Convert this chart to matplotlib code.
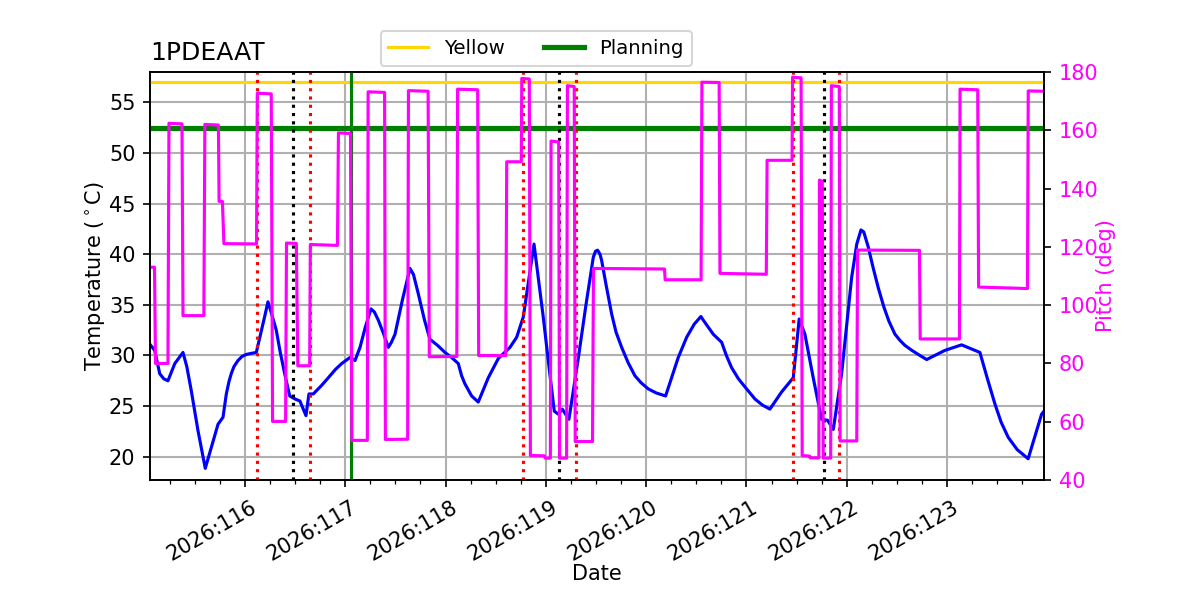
import matplotlib
matplotlib.use("Agg")
import matplotlib.pyplot as plt
import matplotlib.transforms as mtransforms
from matplotlib.ticker import MultipleLocator, FixedLocator

# ---- data ----
temp_t = [115.053, 115.06, 115.10, 115.15, 115.19, 115.232, 115.30, 115.382, 115.42, 115.465,
          115.531, 115.604, 115.664, 115.731, 115.781, 115.814, 115.84, 115.863, 115.89, 115.93,
          115.97, 116.013, 116.06, 116.113, 116.20, 116.229, 116.26, 116.312, 116.35, 116.396,
          116.446, 116.499, 116.548, 116.608, 116.638, 116.681, 116.76, 116.831, 116.90, 116.964,
          117.047, 117.097, 117.147, 117.20, 117.256, 117.29, 117.329, 117.38, 117.429, 117.46,
          117.496, 117.57, 117.645, 117.68, 117.728, 117.79, 117.844, 117.92, 117.994, 118.06,
          118.127, 118.16, 118.193, 118.26, 118.326, 118.426, 118.526, 118.642, 118.709, 118.775,
          118.83, 118.882, 118.92, 118.974, 119.03, 119.084, 119.124, 119.164, 119.230, 119.323,
          119.40, 119.473, 119.495, 119.516, 119.54, 119.556, 119.60, 119.656, 119.70, 119.756,
          119.82, 119.888, 119.95, 120.021, 120.10, 120.194, 120.26, 120.320, 120.404, 120.48,
          120.546, 120.569, 120.669, 120.753, 120.80, 120.852, 120.92, 120.985, 121.085, 121.16,
          121.234, 121.351, 121.467, 121.526, 121.583, 121.666, 121.749, 121.809, 121.866, 121.949,
          122.00, 122.049, 122.10, 122.142, 122.17, 122.215, 122.26, 122.314, 122.37, 122.42,
          122.481, 122.53, 122.580, 122.65, 122.730, 122.797, 122.979, 123.145, 123.328, 123.40,
          123.478, 123.54, 123.611, 123.70, 123.76, 123.809, 123.943, 123.967]
temp_v = [31.1, 31.0, 30.5, 28.2, 27.7, 27.5, 29.2, 30.3, 28.9, 26.5,
          22.6, 18.85, 20.9, 23.2, 23.9, 26.2, 27.4, 28.2, 28.9, 29.5,
          29.9, 30.1, 30.2, 30.3, 34.0, 35.3, 34.3, 32.5, 30.4, 28.2,
          26.0, 25.7, 25.5, 24.06, 26.2, 26.2, 27.0, 27.8, 28.6, 29.2,
          29.8, 29.5, 30.8, 32.8, 34.6, 34.3, 33.5, 32.2, 30.8, 31.3,
          32.1, 35.5, 38.6, 38.0, 36.1, 33.5, 31.6, 31.0, 30.3, 29.8,
          29.2, 28.0, 27.2, 26.0, 25.4, 27.8, 29.7, 30.8, 31.8, 33.8,
          37.5, 41.0, 38.0, 33.8, 29.0, 24.5, 24.2, 24.7, 23.7, 29.7,
          35.0, 39.7, 40.3, 40.4, 40.0, 39.4, 37.0, 34.1, 32.3, 30.8,
          29.3, 28.0, 27.3, 26.7, 26.3, 26.0, 28.0, 29.8, 31.8, 33.1,
          33.85, 33.5, 32.1, 31.3, 30.0, 28.8, 27.7, 26.9, 25.7, 25.1,
          24.7, 26.4, 27.8, 33.6, 32.1, 27.8, 23.7, 23.6, 22.7, 28.2,
          33.0, 37.7, 41.0, 42.4, 42.2, 40.7, 38.8, 36.7, 34.8, 33.4,
          32.1, 31.5, 31.0, 30.5, 30.0, 29.6, 30.5, 31.05, 30.3, 27.8,
          25.2, 23.4, 21.9, 20.7, 20.2, 19.8, 24.2, 24.5]

pitch_t = [115.053, 115.098, 115.108, 115.232, 115.242, 115.372, 115.382, 115.590, 115.600, 115.735,
           115.742, 115.775, 115.790, 116.115, 116.123, 116.262, 116.275, 116.405, 116.414, 116.512,
           116.527, 116.645, 116.652, 116.922, 116.932, 117.052, 117.066, 117.220, 117.228, 117.392,
           117.400, 117.622, 117.630, 117.826, 117.838, 118.112, 118.120, 118.320, 118.330, 118.600,
           118.610, 118.755, 118.760, 118.835, 118.846, 118.985, 118.995, 119.045, 119.052, 119.128,
           119.137, 119.207, 119.215, 119.283, 119.293, 119.465, 119.475, 120.183, 120.190, 120.548,
           120.556, 120.728, 120.736, 121.198, 121.206, 121.455, 121.460, 121.545, 121.556, 121.630,
           121.636, 121.722, 121.728, 121.756, 121.766, 121.840, 121.847, 121.926, 121.934, 122.100,
           122.108, 122.725, 122.733, 123.124, 123.130, 123.306, 123.315, 123.802, 123.810, 123.967]
pitch_v = [113.0, 113.0, 80.0, 80.0, 162.4, 162.2, 96.4, 96.4, 162.0, 161.8,
           135.6, 135.6, 121.1, 121.0, 172.7, 172.5, 60.1, 60.1, 121.3, 121.2,
           79.2, 79.2, 120.8, 120.5, 159.1, 158.9, 53.6, 53.6, 173.2, 173.0,
           53.9, 54.0, 173.6, 173.4, 82.3, 82.4, 174.1, 173.9, 82.7, 82.7,
           149.2, 149.2, 177.8, 177.6, 48.4, 48.3, 47.5, 47.5, 156.3, 156.0,
           47.5, 47.5, 175.3, 175.0, 53.2, 53.2, 112.6, 112.4, 108.7, 108.7,
           176.5, 176.4, 110.9, 110.6, 149.7, 149.7, 178.2, 178.0, 48.4, 48.2,
           47.6, 47.6, 142.9, 142.5, 47.5, 47.5, 175.3, 175.0, 53.4, 53.4,
           118.9, 118.8, 88.4, 88.4, 174.1, 173.9, 106.2, 105.7, 173.5, 173.4]

day_ticks = [116, 117, 118, 119, 120, 121, 122, 123]
day_labels = ['2026:116', '2026:117', '2026:118', '2026:119',
              '2026:120', '2026:121', '2026:122', '2026:123']

yellow_limit = 57.0
planning_limit = 52.5
planning_time = 117.057
red_times = [116.12, 116.65, 118.77, 119.30, 121.46, 121.92]
black_times = [116.48, 119.13, 121.77]

fig, ax = plt.subplots(figsize=(8, 4), dpi=150)
fig.subplots_adjust(left=0.125, right=0.87, top=0.88, bottom=0.2)

ax.grid(True, which='major', color='#b0b0b0', lw=1.0)
ax.set_axisbelow(True)

ax.plot(temp_t, temp_v, color='blue', lw=1.5, zorder=2)
ax.axhline(yellow_limit, color='gold', lw=1.5, label='Yellow', zorder=3)
ax.axhline(planning_limit, color='green', lw=2.5, label='Planning', zorder=3)
ax.axvline(planning_time, color='green', lw=1.5, zorder=3)
for t in red_times:
    ax.axvline(t, color='red', ls=':', lw=1.5, zorder=3)
for t in black_times:
    ax.axvline(t, color='black', ls=':', lw=1.5, zorder=3)

ax.set_xlim(temp_t[0], temp_t[-1])
ax.set_ylim(17.7, 58.0)
ax.xaxis.set_major_locator(FixedLocator(day_ticks))
ax.xaxis.set_minor_locator(MultipleLocator(0.25))
ax.set_xticks(day_ticks, day_labels)
ax.tick_params(axis='x', which='major', pad=4.8)
ax.set_xlabel('Date')
ax.xaxis.set_label_coords(0.5, -0.205)
ax.set_ylabel('Temperature ($^\\circ$C)', labelpad=1)
ax.set_title('1PDEAAT', loc='left')
offset = mtransforms.ScaledTranslation(5 / 150, 0, fig.dpi_scale_trans)
for lbl in ax.get_xticklabels():
    lbl.set_rotation(30)
    lbl.set_ha('right')
    lbl.set_rotation_mode('anchor')
    lbl.set_transform(lbl.get_transform() + offset)

ax2 = ax.twinx()
ax2.plot(pitch_t, pitch_v, color='magenta', lw=1.5)
ax2.set_ylim(40, 180)
ax2.set_ylabel('Pitch (deg)', color='magenta', labelpad=-1)
ax2.tick_params(axis='y', labelcolor='magenta')

ax.legend(loc='lower center', bbox_to_anchor=(0.432, 1.0), ncol=2, borderaxespad=0.3,
          fontsize=9.5)

fig.savefig('out.png', dpi=150)
